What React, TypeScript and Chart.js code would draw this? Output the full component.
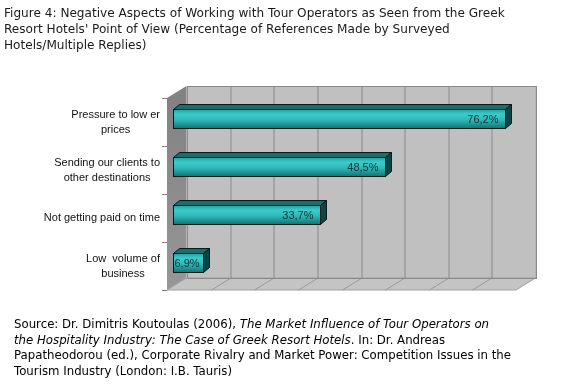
import React, { useEffect, useRef } from "react";
import { Chart, registerables } from "chart.js";

Chart.register(...registerables);

const categories: string[][] = [
  ["Pressure to low er", "prices"],
  ["Sending our clients to", "other destinations"],
  ["Not getting paid on time"],
  ["Low  volume of", "business"],
];
const values: number[] = [76.2, 48.5, 33.7, 6.9];
const valueLabels: string[] = ["76,2%", "48,5%", "33,7%", "6,9%"];
const xTicks: number[] = [0, 10, 20, 30, 40, 50, 60, 70, 80];

const titleLines: string[] = [
  "Figure 4: Negative Aspects of Working with Tour Operators as Seen from the Greek",
  "Resort Hotels' Point of View (Percentage of References Made by Surveyed",
  "Hotels/Multiple Replies)",
];

const WALL_DX = 19.5;
const WALL_DY = -12;
const BAR_DX = 6;
const BAR_DY = -5;
const BAR_OFF_X = 6;
const BAR_OFF_Y = -3.5;

const scenePlugin = {
  id: "scene3d",
  beforeDatasetsDraw(chart: any) {
    const { ctx, chartArea } = chart;
    const xs = chart.scales.x;
    const ys = chart.scales.y;
    const { left, right, top, bottom } = chartArea;
    ctx.save();
    ctx.fillStyle = "#c0c0c0";
    ctx.fillRect(left + WALL_DX, top + WALL_DY, right - left, bottom - top);
    const g = ctx.createLinearGradient(0, top, 0, bottom);
    g.addColorStop(0, "#828282");
    g.addColorStop(1, "#979797");
    ctx.fillStyle = g;
    ctx.beginPath();
    ctx.moveTo(left, top);
    ctx.lineTo(left + WALL_DX, top + WALL_DY);
    ctx.lineTo(left + WALL_DX, bottom + WALL_DY);
    ctx.lineTo(left, bottom);
    ctx.closePath();
    ctx.fill();
    ctx.fillStyle = "#c4c4c4";
    ctx.beginPath();
    ctx.moveTo(left, bottom);
    ctx.lineTo(left + WALL_DX, bottom + WALL_DY);
    ctx.lineTo(right + WALL_DX, bottom + WALL_DY);
    ctx.lineTo(right, bottom);
    ctx.closePath();
    ctx.fill();
    ctx.strokeStyle = "#a0a0a0";
    ctx.lineWidth = 1;
    ctx.stroke();
    ctx.strokeStyle = "#8a8a8a";
    xTicks.forEach((v) => {
      const px = Math.round(xs.getPixelForValue(v)) + 0.5;
      if (v !== 0) {
        ctx.beginPath();
        ctx.moveTo(px + WALL_DX, top + WALL_DY);
        ctx.lineTo(px + WALL_DX, bottom + WALL_DY);
        ctx.stroke();
      }
      if (v !== 0 && v !== 80) {
        ctx.strokeStyle = "#9a9a9a";
        ctx.beginPath();
        ctx.moveTo(px, bottom);
        ctx.lineTo(px + WALL_DX, bottom + WALL_DY);
        ctx.stroke();
        ctx.strokeStyle = "#8a8a8a";
      }
    });
    ctx.strokeRect(
      Math.round(left + WALL_DX) + 0.5,
      Math.round(top + WALL_DY) + 0.5,
      right - left,
      bottom - top
    );
    ctx.strokeStyle = "#808080";
    const n = categories.length;
    for (let i = 0; i <= n; i++) {
      const y = Math.round(top + ((bottom - top) * i) / n) + 0.5;
      ctx.beginPath();
      ctx.moveTo(left - 5, y);
      ctx.lineTo(left, y);
      ctx.stroke();
    }
    ctx.fillStyle = "#111111";
    ctx.font = "11px 'Liberation Sans', Arial, sans-serif";
    ctx.textBaseline = "middle";
    ctx.textAlign = "center";
    const lh = 15;
    categories.forEach((lines, i) => {
      const cy = ys.getPixelForValue(i);
      const maxW = Math.max(...lines.map((l) => ctx.measureText(l).width));
      const cx = left - 7 - maxW / 2;
      lines.forEach((l, j) => {
        ctx.fillText(l, cx, cy + (j - (lines.length - 1) / 2) * lh);
      });
    });
    ctx.restore();
  },
  afterDatasetsDraw(chart: any) {
    const { ctx } = chart;
    const meta = chart.getDatasetMeta(0);
    ctx.save();
    meta.data.forEach((el: any, i: number) => {
      const p = el.getProps(["x", "y", "base", "height"], true);
      const x0 = Math.round(p.base + BAR_OFF_X) + 0.5;
      const x1 = Math.round(p.x + BAR_OFF_X) + 0.5;
      const y0 = Math.round(p.y - p.height / 2 + BAR_OFF_Y) + 0.5;
      const y1 = Math.round(p.y + p.height / 2 + BAR_OFF_Y) + 0.5;
      ctx.lineWidth = 1;
      ctx.strokeStyle = "#0a1a1a";
      ctx.lineJoin = "miter";
      ctx.fillStyle = "#1c6e6e";
      ctx.beginPath();
      ctx.moveTo(x0, y0);
      ctx.lineTo(x0 + BAR_DX, y0 + BAR_DY);
      ctx.lineTo(x1 + BAR_DX, y0 + BAR_DY);
      ctx.lineTo(x1, y0);
      ctx.closePath();
      ctx.fill();
      ctx.stroke();
      ctx.fillStyle = "#0c4545";
      ctx.beginPath();
      ctx.moveTo(x1, y0);
      ctx.lineTo(x1 + BAR_DX, y0 + BAR_DY);
      ctx.lineTo(x1 + BAR_DX, y1 + BAR_DY);
      ctx.lineTo(x1, y1);
      ctx.closePath();
      ctx.fill();
      ctx.stroke();
      const g = ctx.createLinearGradient(0, y0, 0, y1);
      g.addColorStop(0, "#2a9f9f");
      g.addColorStop(0.25, "#3ccccc");
      g.addColorStop(0.55, "#2fb8b8");
      g.addColorStop(1, "#127272");
      ctx.fillStyle = g;
      ctx.fillRect(x0, y0, x1 - x0, y1 - y0);
      ctx.strokeRect(x0, y0, x1 - x0, y1 - y0);
      ctx.font = "11px 'Liberation Sans', Arial, sans-serif";
      ctx.fillStyle = "#123035";
      ctx.textBaseline = "middle";
      ctx.textAlign = "left";
      const txt = valueLabels[i];
      const w = ctx.measureText(txt).width;
      let tx = x1 - 7 - w;
      if (tx < x0 + 1) tx = x0 + 1;
      ctx.fillText(txt, tx, (y0 + y1) / 2 + 0.5);
    });
    ctx.restore();
  },
};

export default function App() {
  const ref = useRef<HTMLCanvasElement | null>(null);
  useEffect(() => {
    document.body.style.margin = "0";
    const chart = new Chart(ref.current as HTMLCanvasElement, {
      type: "bar",
      data: {
        labels: categories.map((c) => c.join(" ")),
        datasets: [
          {
            data: values,
            backgroundColor: "rgba(0,0,0,0)",
            borderWidth: 0,
            categoryPercentage: 1,
            barPercentage: 0.4,
          },
        ],
      },
      options: {
        indexAxis: "y",
        responsive: false,
        animation: false,
        events: [],
        layout: { padding: { left: 167, right: 63, top: 98, bottom: 102 } },
        scales: {
          x: { display: false, min: 0, max: 80 },
          y: { display: false },
        },
        plugins: {
          legend: { display: false },
          tooltip: { enabled: false },
          title: { display: false },
        },
      },
      plugins: [scenePlugin],
    });
    return () => chart.destroy();
  }, []);

  const textStyle: React.CSSProperties = {
    position: "absolute",
    left: 4,
    fontFamily: "'DejaVu Sans', Verdana, sans-serif",
    fontSize: 12.1,
    whiteSpace: "pre",
    color: "#1a1a1a",
  };

  return (
    <div style={{ position: "relative", width: 579, height: 392, background: "#fff" }}>
      <canvas ref={ref} width={579} height={392} style={{ position: "absolute", left: 0, top: 0 }} />
      <div style={{ ...textStyle, top: 5, lineHeight: "16px" }}>
        {titleLines.join("\n")}
      </div>
      <div style={{ ...textStyle, left: 14, top: 317, fontSize: 11.75, lineHeight: "15.5px", color: "#000" }}>
        Source: Dr. Dimitris Koutoulas (2006), <i>The Market Influence of Tour Operators on</i>
        {"\n"}
        <i>the Hospitality Industry: The Case of Greek Resort Hotels</i>. In: Dr. Andreas
        {"\n"}
        Papatheodorou (ed.), Corporate Rivalry and Market Power: Competition Issues in the
        {"\n"}
        Tourism Industry (London: I.B. Tauris)
      </div>
    </div>
  );
}
